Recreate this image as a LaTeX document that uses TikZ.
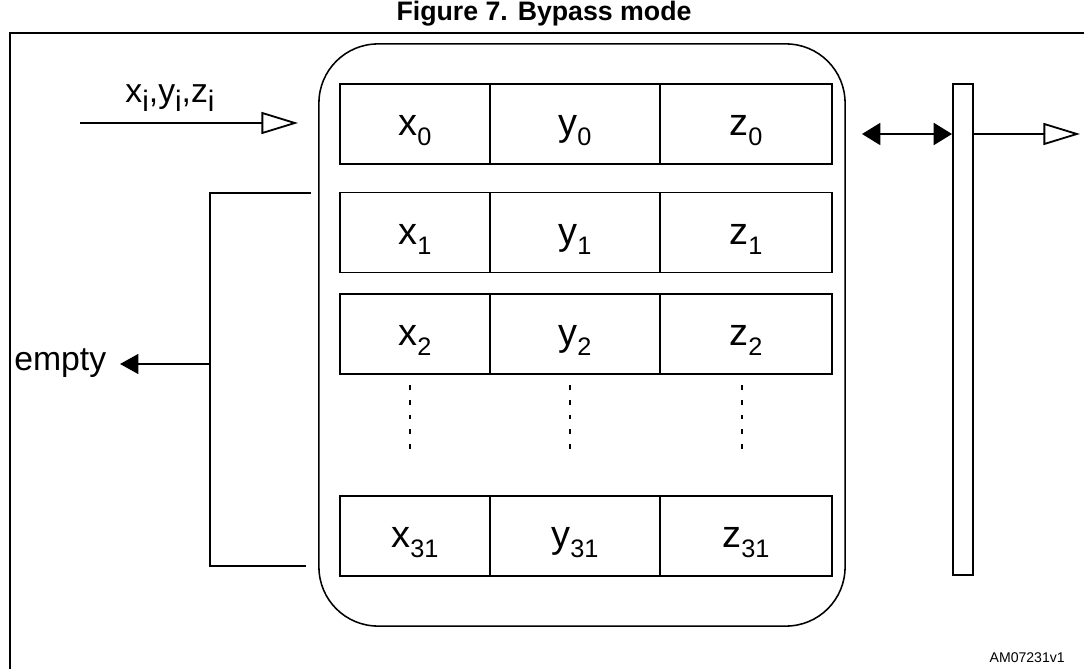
\documentclass[tikz,border=0pt]{standalone}
\usepackage{fontspec}
\setmainfont{Liberation Sans}
\usepackage{tikz}
\usetikzlibrary{positioning}
\usetikzlibrary{arrows.meta}
\usepackage{xcolor}

\newcommand{\lo}[2][18]{\raisebox{-0.26em}{\fontsize{#1}{#1}\selectfont #2}}

\tikzset{
  cell/.style={draw, line width=1.4pt, minimum height=2cm, inner sep=0pt, outer sep=0pt,
               text height=16.6pt, text depth=0pt, font=\fontsize{27}{27}\selectfont},
  wire/.style={line width=1.5pt},
  openhead/.style={wire, -{Triangle[open, length=26pt, width=15.6pt, line width=1.3pt]}},
  dots/.style={line width=1.4pt, dash pattern=on 3.5pt off 7pt}
}

\begin{document}
\begin{tikzpicture}[x=0.025cm, y=-0.025cm]
            \useasboundingbox (0,0) rectangle (1084,669);

            % title and frame
            \node[anchor=base, font=\bfseries\fontsize{19}{19}\selectfont] (title) at (544,21) {Figure 7. Bypass mode};
            \draw[line width=2.1pt] (10,669) -- (10,33) -- (1084,33);

            % FIFO
            \node[draw, line width=1.1pt, rounded corners=42pt, minimum width=13.15cm, minimum height=14.55cm] (fifo) at (582,335) {};

            \node[cell, minimum width=3.75cm] (x0) at (415,124) {x\lo{0}};
            \node[cell, minimum width=4.25cm] (y0) at (575,124) {y\lo{0}};
            \node[cell, minimum width=4.3cm] (z0) at (746,124) {z\lo{0}};

            \node[cell, minimum width=3.75cm] (x1) at (415,232.5) {x\lo{1}};
            \node[cell, minimum width=4.25cm] (y1) at (575,232.5) {y\lo{1}};
            \node[cell, minimum width=4.3cm] (z1) at (746,232.5) {z\lo{1}};

            \node[cell, minimum width=3.75cm] (x2) at (415,334) {x\lo{2}};
            \node[cell, minimum width=4.25cm] (y2) at (575,334) {y\lo{2}};
            \node[cell, minimum width=4.3cm] (z2) at (746,334) {z\lo{2}};

            \node[cell, minimum width=3.75cm] (x31) at (415,536) {x\lo{31}};
            \node[cell, minimum width=4.25cm] (y31) at (575,536) {y\lo{31}};
            \node[cell, minimum width=4.3cm] (z31) at (746,536) {z\lo{31}};

            \draw[dots] ([shift={(-5,11)}]x2.south) -- ([shift={(-5,-39)}]x31.north);
            \draw[dots] ([shift={(-5,11)}]y2.south) -- ([shift={(-5,-39)}]y31.north);
            \draw[dots] ([shift={(-4,11)}]z2.south) -- ([shift={(-4,-39)}]z31.north);

            % input
            \coordinate (instart) at (80,123);
            \coordinate (intip) at (298,123);
            \draw[openhead] (instart) -- (intip);
            \node[anchor=base, font=\fontsize{24}{24}\selectfont] (inlabel) at (170,103) {x\lo[21]{i},y\lo[21]{i},z\lo[21]{i}};

            % output register
            \node[draw, line width=1.4pt, minimum width=0.5cm, minimum height=12.275cm, inner sep=0pt] (bus) at (963,329.5) {};
            \coordinate (busin) at (862,134);
            \coordinate (outtip) at (1080,134);
            \draw[wire, {Triangle[length=13pt, width=15.6pt]}-{Triangle[length=13pt, width=15.6pt]}] (busin) -- (bus.west |- busin);
            \draw[openhead] (bus.east |- busin) -- (outtip);

            % empty flag
            \coordinate (brtop) at (311,193);
            \coordinate (brbot) at (306,566);
            \coordinate (brmid) at (210,364);
            \coordinate (emptytip) at (120,364);
            \draw[wire] (brtop) -- (210,193) -- (210,566) -- (brbot);
            \node[anchor=base west, inner sep=0pt, font=\fontsize{24}{24}\selectfont] (empty) at (14,370) {empty};
            \draw[wire, -{Triangle[length=13pt, width=14pt]}] (brmid) -- (emptytip);

            \node[anchor=base east, inner sep=0pt, font=\fontsize{10}{10}\selectfont] (code) at (1065,662) {AM07231v1};
        \end{tikzpicture}
\end{document}
